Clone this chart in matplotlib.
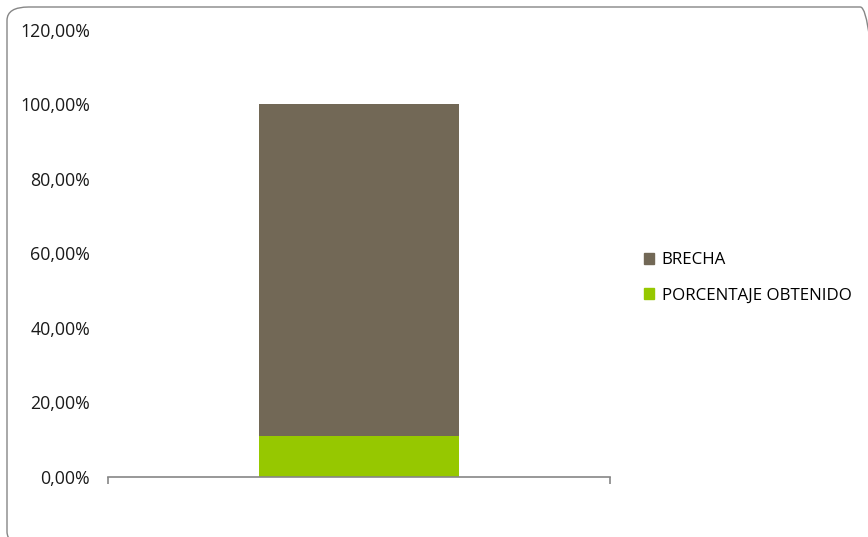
import matplotlib
matplotlib.use('Agg')
import matplotlib.pyplot as plt
from matplotlib.patches import FancyBboxPatch, Patch
from matplotlib.ticker import FuncFormatter

# data
categories = ['']
obtenido = [0.11]
brecha = [0.89]
series_names = ['PORCENTAJE OBTENIDO', 'BRECHA']
colors = ['#96C800', '#726856']

plt.rcParams['font.family'] = ['Open Sans', 'DejaVu Sans']

W, H = 868, 537
fig = plt.figure(figsize=(W / 100, H / 100), dpi=100)
ax = fig.add_axes([108 / W, 1 - 477 / H, (610 - 108) / W, (477 - 29.6) / H])

x = range(len(categories))
ax.bar(x, obtenido, width=0.4, color=colors[0], zorder=2)
ax.bar(x, brecha, width=0.4, bottom=obtenido, color=colors[1], zorder=2)

ax.set_xlim(-0.5, 0.5)
ax.set_ylim(0, 1.2)
ax.set_yticks([i * 0.2 for i in range(7)])
ax.yaxis.set_major_formatter(FuncFormatter(lambda v, p: ('%.2f%%' % (v * 100)).replace('.', ',')))
ax.tick_params(axis='y', length=0, pad=13, labelsize=12.8, labelcolor='#1a1a1a')
ax.set_xticks([-0.5, 0.5])
ax.set_xticklabels(['', ''])
ax.tick_params(axis='x', length=5, width=1.2, color='#868686', direction='out')

for s in ['top', 'right', 'left']:
    ax.spines[s].set_visible(False)
ax.spines['bottom'].set_color('#868686')
ax.spines['bottom'].set_linewidth(1.2)
ax.spines['bottom'].set_zorder(3)

# legend, BRECHA first
handles = [Patch(color=colors[1]), Patch(color=colors[0])]
fig.legend(handles, [series_names[1], series_names[0]],
           loc='center left', bbox_to_anchor=(637 / W, 1 - 278 / H),
           frameon=False, fontsize=12.2, handlelength=0.6, handleheight=0.6,
           handletextpad=0.45, labelspacing=1.15, borderaxespad=0)

# rounded chart border (right and bottom edges run off the canvas)
border = FancyBboxPatch((7 / W, 1 - 545 / H), (882 - 7) / W, (545 - 7) / H,
                        boxstyle='round,pad=0,rounding_size=0.025',
                        transform=fig.transFigure, fill=False,
                        edgecolor='#868686', linewidth=1.0, clip_on=False)
fig.patches.append(border)

fig.savefig('out.png', dpi=100)
